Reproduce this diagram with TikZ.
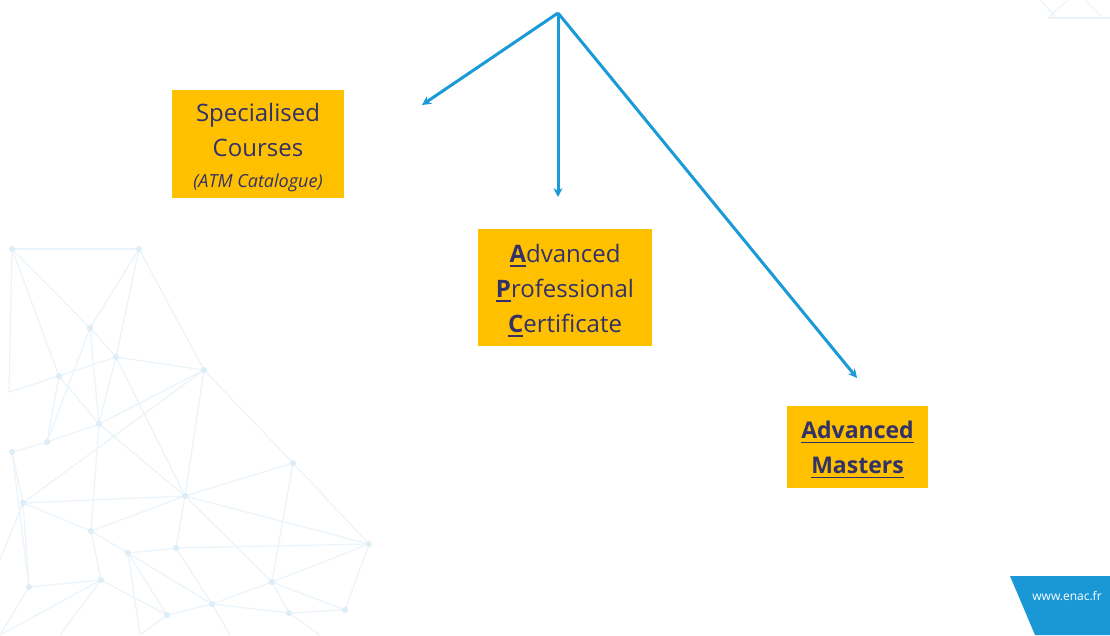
\documentclass[tikz,border=0pt]{standalone}
\usepackage{fontspec}
\setmainfont{Open Sans}
\usetikzlibrary{arrows.meta}
\definecolor{boxfill}{RGB}{255,192,0}
\definecolor{txt}{RGB}{50,49,104}
\definecolor{arrowblue}{RGB}{27,154,216}
\definecolor{netline}{RGB}{234,244,250}
\definecolor{netdot}{RGB}{220,237,248}
\definecolor{cornerblue}{RGB}{26,152,214}
\newsavebox{\ulbox}
\newcommand{\ulA}[1]{\sbox{\ulbox}{#1}\rlap{\rule[-4.5pt]{\wd\ulbox}{1.6pt}}\usebox{\ulbox}}
\tikzset{
  course/.style={fill=boxfill, inner sep=0pt},
  coursetext/.style={text=txt, align=center, inner sep=0pt, font=\fontsize{24}{35}\selectfont},
  flow/.style={draw=arrowblue, line width=3pt, -{Stealth[length=9pt,width=9pt]}},
  net/.style={draw=netline, line width=1.2pt},
  netpt/.style={fill=netdot, circle, inner sep=0pt, minimum size=6pt}
}
\begin{document}
\begin{tikzpicture}[x=1pt,y=-1pt]
\useasboundingbox (0,0) rectangle (1110,635);
\fill[white] (0,0) rectangle (1110,635);
% background network
\begin{scope}
\clip (0,0) rectangle (1110,635);
\foreach \n/\x/\y in {a/12/249,b/139/249,c/90/328,d/116/357,e/59/376,f/204/370,g/99/424,h/47/442,i/12/452,j/23/503,k/185/496,l/293/463,m/91/531,n/128/553,o/176/548,p/369/544,q/101/580,r/29/587,s/272/582,t/212/604,u/167/615,v/289/613,w/345/610,x/9/392,z1/0/635,z2/60/635,z3/140/635,z4/230/635,z5/320/635,y1/0/560}
  \coordinate (\n) at (\x,\y);
\foreach \u/\v in {a/b,a/c,a/e,a/x,x/e,b/c,b/d,b/f,c/d,c/h,e/d,e/g,d/f,d/g,d/k,f/g,f/k,f/l,f/j,g/k,g/h,h/i,h/e,i/j,j/k,j/m,k/l,l/p,k/p,l/s,m/n,m/q,n/o,o/p,o/k,k/s,s/p,s/v,p/w,v/w,t/u,o/t,t/v,q/u,r/j,r/q,n/u,g/m,c/g,q/z2,r/z1,u/z3,t/z4,v/z5,j/y1,n/t,s/t,i/r,m/k,w/s,n/z3,q/z1}
  \draw[net] (\u) -- (\v);
\foreach \n in {a,b,c,d,e,f,g,h,i,j,k,l,m,n,o,p,q,r,s,t,u,v,w}
  \node[netpt] at (\n) {};
\draw[net] (1048,18) -- (1068,0);
\draw[net] (1048,18) -- (1110,18);
\draw[net] (1085,0) -- (1103,18);
\draw[net] (1040,0) -- (1055,16);
\end{scope}
% corner
\fill[cornerblue] (1010,576) -- (1110,576) -- (1110,635) -- (1035,635) -- cycle;
\node[text=white, font=\fontsize{12}{14}\selectfont] (web) at (1067,596) {www.enac.fr};
% boxes
\node[course, minimum width=172pt, minimum height=108pt] (spec) at (258,144) {};
\node[coursetext] (spec-t) at ([yshift=-4pt]spec.center)
  {Specialised\\Courses\\[-4pt]{\fontsize{18}{22}\selectfont\itshape (ATM Catalogue)}};
\node[course, minimum width=174pt, minimum height=117pt] (apc) at (565,287.5) {};
\node[coursetext] (apc-t) at ([yshift=-3pt]apc.center)
  {\ulA{\textbf{A}}dvanced\\\ulA{\textbf{P}}rofessional\\\ulA{\textbf{C}}ertificate};
\node[course, minimum width=141pt, minimum height=82pt] (am) at (857.5,447) {};
\node[coursetext, font=\fontsize{23}{35}\selectfont\bfseries] (am-t) at ([yshift=-3pt]am.center)
  {\ulA{Advanced}\\\ulA{Masters}};
% arrows
\coordinate (top) at (558,13);
\coordinate (e1) at (422,105);
\coordinate (e2) at (558,197);
\coordinate (e3) at (857,378);
\draw[flow] (top) -- (e1);
\draw[flow] (top) -- (e2);
\draw[flow] (top) -- (e3);
\end{tikzpicture}
\end{document}
